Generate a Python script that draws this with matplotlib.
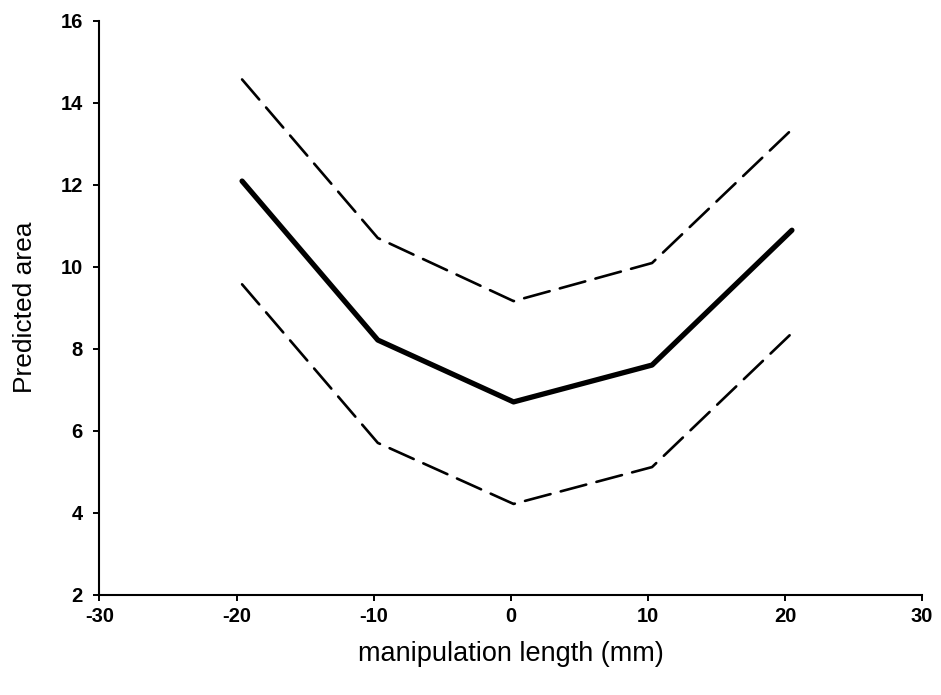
import matplotlib.pyplot as plt

# lunghezza della manipolazione (mm) e area predetta con limiti di confidenza
lunghezza = [-19.6, -9.7, 0.2, 10.3, 20.5]
area = [12.09, 8.21, 6.70, 7.60, 10.89]
limiteSup = [14.57, 10.70, 9.16, 10.09, 13.35]
limiteInf = [9.57, 5.70, 4.21, 5.11, 8.38]

xticks = [-30, -20, -10, 0, 10, 20, 30]
yticks = [2, 4, 6, 8, 10, 12, 14, 16]

plt.rcParams['font.family'] = ['Liberation Sans', 'DejaVu Sans']

fig = plt.figure(figsize=(9.41, 6.95), dpi=100)
ax = fig.add_axes([0.1057, 0.1446, 0.8743, 0.8254])

ax.plot(lunghezza, area, color='black', linewidth=3.8, solid_capstyle='round', solid_joinstyle='round')
ax.plot(lunghezza, limiteSup, color='black', linewidth=1.9, linestyle=(0, (10, 4)), dash_capstyle='round')
ax.plot(lunghezza, limiteInf, color='black', linewidth=1.9, linestyle=(0, (10, 4)), dash_capstyle='round')

ax.set_xlim(-30, 30)
ax.set_ylim(2, 16)
ax.set_xticks(xticks)
ax.set_yticks(yticks)
ax.set_xticklabels([str(t) for t in xticks], fontweight='bold', fontsize=14.5)
ax.set_yticklabels([str(t) for t in yticks], fontweight='bold', fontsize=14.5)
ax.tick_params(axis='x', direction='out', length=4, width=1.4, pad=5)
ax.tick_params(axis='y', direction='out', length=4, width=1.4, pad=8)

ax.spines['top'].set_visible(False)
ax.spines['right'].set_visible(False)
ax.spines['left'].set_linewidth(1.5)
ax.spines['bottom'].set_linewidth(1.5)

ax.set_xlabel("manipulation length (mm)", fontsize=19.5, labelpad=11)
ax.set_ylabel("Predicted area", fontsize=19, labelpad=17)

fig.savefig("out.png", dpi=100)
